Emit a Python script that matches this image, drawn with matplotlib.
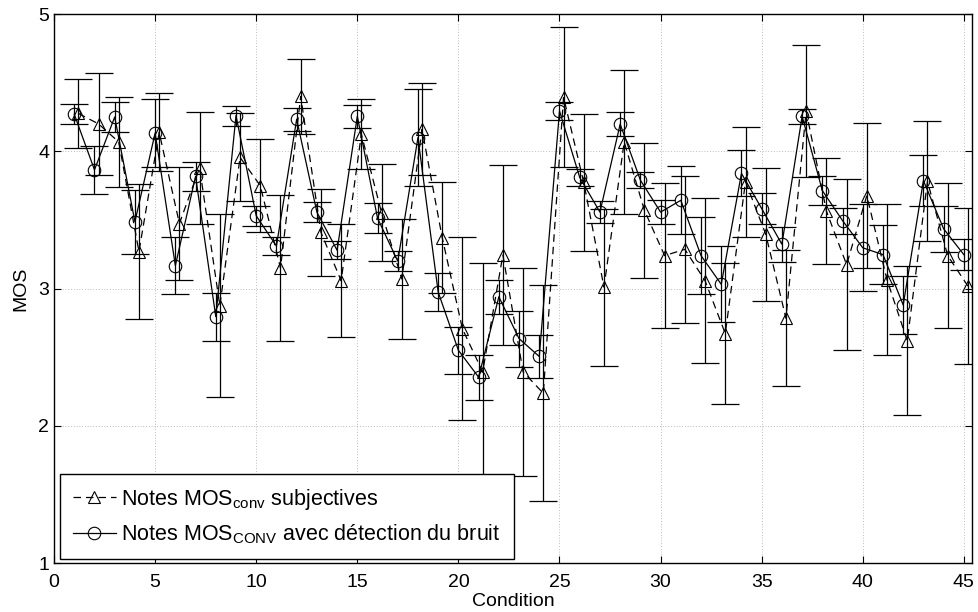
"""    MOS per condition    """

import numpy as np
import matplotlib
matplotlib.use("Agg")
import matplotlib.pyplot as plt

plt.rcParams['font.family'] = ['Liberation Sans', 'DejaVu Sans']
plt.rcParams['mathtext.fontset'] = 'custom'
plt.rcParams['mathtext.rm'] = 'Liberation Sans'
plt.rcParams['mathtext.it'] = 'Liberation Sans'

# conditions 1..45
cond = np.arange(1, 46)

# subjective MOS (triangles, dashed) and 95% CI half width
mos_subj = [4.276, 4.20, 4.068, 3.27, 4.138, 3.474, 3.88, 2.875, 3.956, 3.75,
            3.15, 4.40, 3.41, 3.057, 4.125, 3.552, 3.07, 4.16, 3.37, 2.706,
            2.393, 3.245, 2.393, 2.237, 4.395, 3.773, 3.01, 4.068, 3.57, 3.24,
            3.286, 3.057, 2.672, 3.779, 3.396, 2.784, 4.294, 3.565, 3.174, 3.677,
            3.063, 2.62, 3.781, 3.24, 3.018]
ci_subj = [0.254, 0.372, 0.327, 0.49, 0.285, 0.41, 0.41, 0.665, 0.32, 0.337,
           0.534, 0.273, 0.316, 0.413, 0.255, 0.353, 0.44, 0.335, 0.404, 0.667,
           0.79, 0.656, 0.758, 0.788, 0.51, 0.5, 0.573, 0.525, 0.49, 0.527,
           0.536, 0.603, 0.512, 0.40, 0.486, 0.497, 0.478, 0.388, 0.621, 0.53,
           0.55, 0.543, 0.4375, 0.527, 0.566]

# MOS with noise detection (circles, solid)
mos_det = [4.27, 3.865, 4.25, 3.487, 4.133, 3.167, 3.818, 2.795, 4.26, 3.53,
           3.31, 4.234, 3.557, 3.279, 4.255, 3.513, 3.20, 4.10, 2.974, 2.55,
           2.354, 2.94, 2.635, 2.505, 4.294, 3.81, 3.557, 4.198, 3.79, 3.557,
           3.643, 3.24, 3.031, 3.839, 3.583, 3.323, 4.255, 3.714, 3.495, 3.297,
           3.247, 2.88, 3.786, 3.435, 3.247]
ci_det = [0.074, 0.175, 0.108, 0.234, 0.25, 0.21, 0.107, 0.176, 0.072, 0.075,
          0.065, 0.085, 0.072, 0.065, 0.085, 0.107, 0.074, 0.353, 0.137, 0.172,
          0.163, 0.126, 0.204, 0.156, 0.065, 0.06, 0.078, 0.085, 0.056, 0.085,
          0.247, 0.281, 0.277, 0.167, 0.112, 0.128, 0.056, 0.108, 0.095, 0.318,
          0.215, 0.208, 0.184, 0.17, 0.113]

x_subj = cond + 0.2   # subjective points are shifted a bit to the right

fig = plt.figure(figsize=(9.79, 6.12), dpi=100)
ax = fig.add_axes([0.0552, 0.080, 0.9376, 0.897])

# error bars
ax.errorbar(x_subj, mos_subj, yerr=ci_subj, fmt='none', ecolor='k',
            elinewidth=0.9, capsize=10, capthick=0.9)
ax.errorbar(cond, mos_det, yerr=ci_det, fmt='none', ecolor='k',
            elinewidth=0.9, capsize=10, capthick=0.9)

# lines + markers
ax.plot(x_subj, mos_subj, color='k', linestyle=(0, (6, 4)), linewidth=0.9,
        marker='^', markersize=9, markerfacecolor='none', markeredgecolor='k',
        markeredgewidth=0.8, label=r'Notes MOS$_{\rm conv}$ subjectives')
ax.plot(cond, mos_det, color='k', linestyle='-', linewidth=0.9,
        marker='o', markersize=9, markerfacecolor='none', markeredgecolor='k',
        markeredgewidth=0.8, label=r'Notes MOS$_{\rm CONV}$ avec détection du bruit')

ax.set_xlim(0, 45.4)
ax.set_ylim(1, 5)
ax.set_xticks(np.arange(0, 46, 5))
ax.set_yticks([1, 2, 3, 4, 5])
ax.grid(True, linestyle=(0, (1, 3)), color='k', linewidth=0.5, alpha=0.5)
ax.tick_params(direction='in', top=True, right=True, labelsize=14, length=5)
ax.tick_params(axis='x', pad=8)
for s in ax.spines.values():
    s.set_linewidth(1.0)

ax.set_xlabel('Condition', fontsize=14, labelpad=1)
ax.set_ylabel('MOS', fontsize=14, labelpad=6)

leg = ax.legend(loc='lower left', bbox_to_anchor=(6 / 918, 4 / 549),
                fontsize=15.5, frameon=True, fancybox=False,
                edgecolor='k', framealpha=1, borderaxespad=0,
                handlelength=2.0, handletextpad=0.25, labelspacing=0.5,
                borderpad=0.6)
leg.get_frame().set_linewidth(1.0)

fig.savefig('out.png', dpi=100)
